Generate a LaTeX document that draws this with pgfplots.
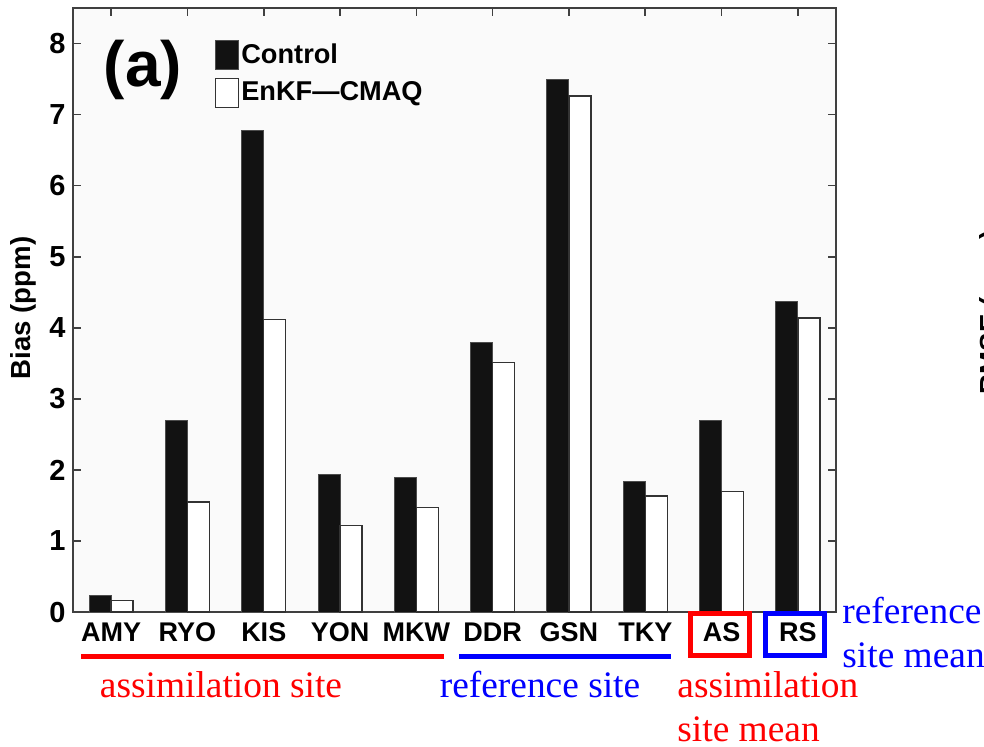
\documentclass[border=0pt]{standalone}
\usepackage{pgfplots}
\pgfplotsset{compat=1.18}
\usepackage{fontspec}
\setmainfont{Liberation Serif}
\setsansfont{Liberation Sans}
\definecolor{myred}{RGB}{255,0,0}
\definecolor{myblue}{RGB}{0,0,255}
\newcommand{\hv}[1]{\sffamily\bfseries\fontsize{#1}{#1}\selectfont}
\newcommand{\tm}{\rmfamily\fontsize{18.7}{21}\selectfont}

\pgfplotstableread{
x ctrl enkf
0 0.23 0.16
1 2.69 1.55
2 6.77 4.12
3 1.93 1.22
4 1.89 1.47
5 3.79 3.51
6 7.50 7.26
7 1.83 1.63
8 2.70 1.70
9 4.37 4.14
}\biasdata

\begin{document}
\begin{tikzpicture}
\useasboundingbox (0,0) rectangle (492pt,-373pt);
\clip (0,0) rectangle (492pt,-373pt);
\begin{axis}[
  at={(36.5pt,-306pt)}, anchor=south west,
  width=381.5pt, height=302pt, scale only axis,
  xmin=-0.5, xmax=9.5, ymin=0, ymax=8.5,
  ybar=0pt, bar width=11pt,
  xtick={0,...,9},
  xticklabels={AMY,RYO,KIS,YON,MKW,DDR,GSN,TKY,AS,RS},
  ytick={0,...,8},
  tick align=inside, tick pos=both,
  major tick length=4pt,
  axis background/.style={fill=black!2},
  axis line style={black!75, line width=0.9pt},
  every tick/.style={black!75, line width=0.8pt},
  xticklabel style={font=\hv{13.5}, yshift=-2pt},
  yticklabel style={font=\hv{14.5}, inner sep=0pt, xshift=-3.5pt},
  /pgf/number format/assume math mode=true,
  legend style={at={(0.186,0.947)}, anchor=north west, draw=none, fill=none,
    inner sep=0pt, outer sep=0pt, row sep=3.75pt, font=\hv{13.6},
    nodes={inner sep=1pt}},
  legend cell align=left,
]
\addplot[fill=black!93, draw=black!70, line width=0.5pt,
  legend image code/.code={\draw[fill=black!93, draw=black!70] (0pt,-7.25pt) rectangle (11.5pt,7.25pt);}]
  table[x=x, y=ctrl] {\biasdata};
\addlegendentry{Control}
\addplot[fill=white, draw=black!80, line width=0.7pt,
  legend image code/.code={\draw[fill=white, draw=black!80, line width=0.7pt] (0pt,-7.25pt) rectangle (11.5pt,7.25pt);}]
  table[x=x, y=enkf] {\biasdata};
\addlegendentry{EnKF---CMAQ}
\end{axis}
\begin{scope}[x=0.5pt, y=-0.5pt]
  % panel label
  \node[font=\hv{32}, inner sep=0pt] at (143,70) {(a)};
  % y label
  \node[font=\hv{13.8}, rotate=90, inner sep=0pt] at (23,308) {Bias (ppm)};
  % group underlines
  \draw[myred, line width=2.5pt] (81,656) -- (444,656);
  \draw[myblue, line width=2.5pt] (459,656) -- (671,656);
  % mean boxes
  \draw[myred, line width=2.25pt] (690.5,613.5) rectangle (749.5,655.5);
  \draw[myblue, line width=2.25pt] (765.5,613.5) rectangle (824.5,655.5);
  % annotations
  \node[font=\tm, text=myred, anchor=base, inner sep=0pt] at (221,697) {assimilation site};
  \node[font=\tm, text=myblue, anchor=base, inner sep=0pt] at (540,697) {reference site};
  \node[font=\tm, text=myred, anchor=base west, inner sep=0pt] at (677,697) {assimilation};
  \node[font=\tm, text=myred, anchor=base west, inner sep=0pt] at (677,741) {site mean};
  \node[font=\tm, text=myblue, anchor=base west, inner sep=0pt] at (842,623) {reference};
  \node[font=\tm, text=myblue, anchor=base west, inner sep=0pt] at (842,667) {site mean};
  % neighbouring panel's label, cut off at the edge
  \node[font=\hv{13.8}, rotate=90, anchor=north, inner sep=0pt] at (979,312) {RMSE (ppm)};
\end{scope}
\end{tikzpicture}
\end{document}
